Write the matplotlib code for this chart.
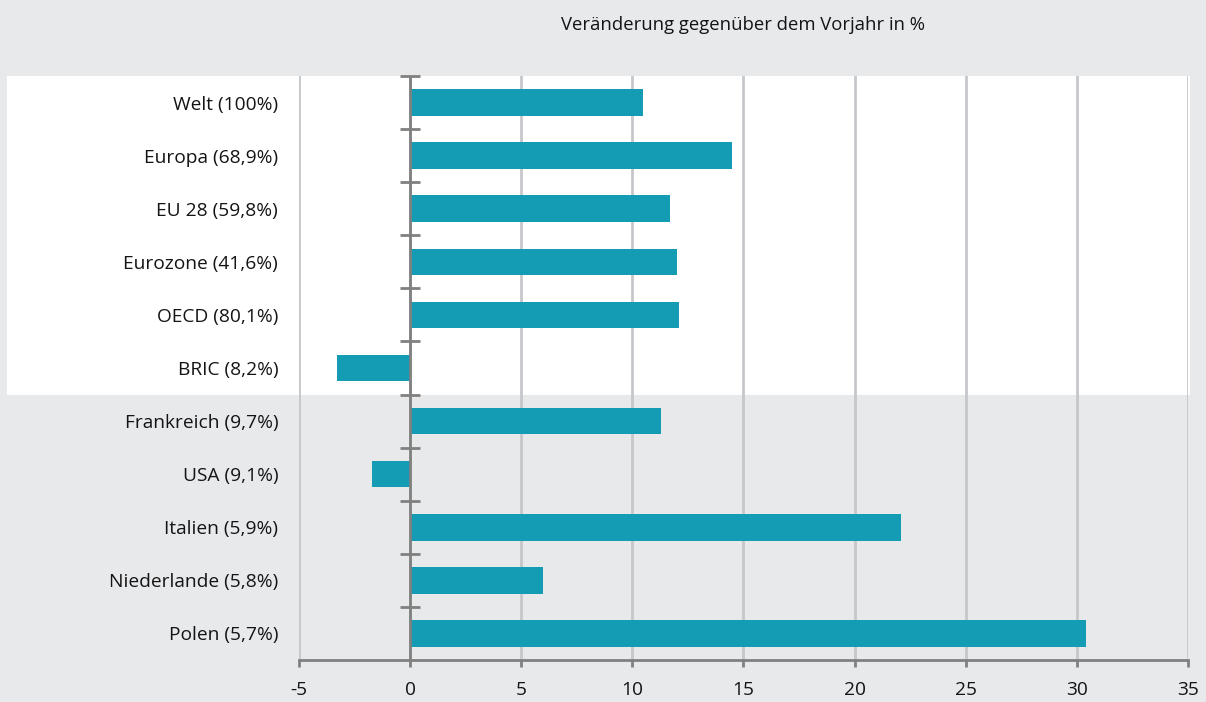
import matplotlib
matplotlib.use("Agg")
import matplotlib.pyplot as plt
from matplotlib.patches import Rectangle
from matplotlib.transforms import blended_transform_factory

# Veränderung gegenüber dem Vorjahr in %
regionen = ["Welt (100%)", "Europa (68,9%)", "EU 28 (59,8%)", "Eurozone (41,6%)",
            "OECD (80,1%)", "BRIC (8,2%)", "Frankreich (9,7%)", "USA (9,1%)",
            "Italien (5,9%)", "Niederlande (5,8%)", "Polen (5,7%)"]
veraenderung = [10.5, 14.5, 11.7, 12.0, 12.1, -3.3, 11.3, -1.7, 22.1, 6.0, 30.4]
x_ticks = [-5, 0, 5, 10, 15, 20, 25, 30, 35]

fond = "#e8e9eb"
bleu = "#149cb5"
gris_axe = "#808080"
gris_grille = "#c5c7cb"

plt.rcParams["font.family"] = ["Open Sans", "DejaVu Sans"]

fig = plt.figure(figsize=(12.06, 7.02), dpi=100, facecolor=fond)
ax = fig.add_axes([0.2479, 0.0598, 0.7372, 0.8319])
ax.patch.set_visible(False)

n = len(regionen)
pos = list(range(n))

# panneau blanc derrière les agrégats (Welt ... BRIC)
trans = blended_transform_factory(fig.transFigure, ax.transData)
ax.add_patch(Rectangle((7 / 1206, -0.5), (1190 - 7) / 1206, 6.0, transform=trans,
                       facecolor="white", edgecolor="none", clip_on=False, zorder=0))

ax.barh(pos, veraenderung, height=0.5, color=bleu, zorder=3)

ax.set_ylim(n - 0.5, -0.5)
ax.set_xlim(-5, 35)
ax.set_xticks(x_ticks)
ax.set_xticklabels([str(t) for t in x_ticks])
ax.grid(axis="x", color=gris_grille, linewidth=2, zorder=1)
ax.set_axisbelow(True)

# axe zéro avec les petits traits de séparation
ax.axvline(0, color=gris_axe, linewidth=2, zorder=4)
bornes = [i - 0.5 for i in range(n)]
ax.plot([0] * len(bornes), bornes, linestyle="none", marker="_", markersize=14,
        markeredgewidth=2, color=gris_axe, zorder=4, clip_on=False)

for s in ["left", "right", "top"]:
    ax.spines[s].set_visible(False)
ax.spines["bottom"].set_color(gris_axe)
ax.spines["bottom"].set_linewidth(2)
ax.spines["bottom"].set_zorder(5)

ax.set_yticks(pos)
ax.set_yticklabels(regionen)
ax.tick_params(axis="y", length=0, pad=15, labelsize=13.8, labelcolor="#141414")
ax.tick_params(axis="x", length=5, width=2, color=gris_axe, pad=10,
               labelsize=13.8, labelcolor="#141414")

fig.text(0.2479 + 0.7372 / 2, 1 - 25 / 702, "Veränderung gegenüber dem Vorjahr in %",
         ha="center", va="center", fontsize=13.3, color="#141414")

fig.savefig("out.png", dpi=100, facecolor=fond)
